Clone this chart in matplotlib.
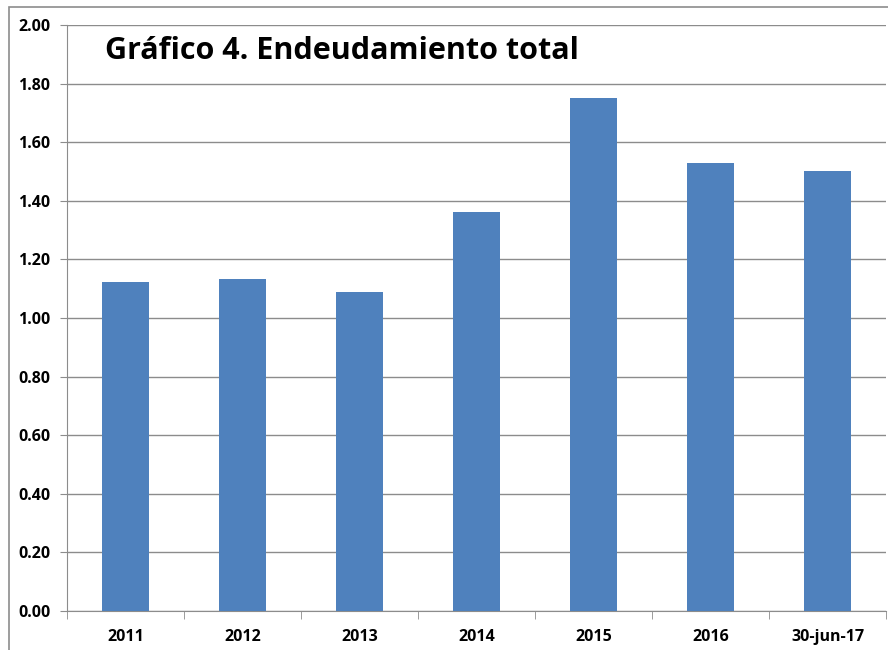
import matplotlib
matplotlib.use('Agg')
import matplotlib.pyplot as plt
from matplotlib.patches import Rectangle
import numpy as np

periods = ['2011', '2012', '2013', '2014', '2015', '2016', '30-jun-17']
debt_ratio = [1.123, 1.133, 1.089, 1.362, 1.751, 1.529, 1.502]

plt.rcParams['font.family'] = ['Open Sans', 'DejaVu Sans']

fig = plt.figure(figsize=(8.88, 6.5), dpi=100)
ax = fig.add_axes([67/888, 39/650, (886-67)/888, (611-25)/650])

# outer chart frame (clipped on right/bottom like the source image)
fig.patches.append(Rectangle((9/888, -0.5), 2, 1 - 7/650 + 0.5, transform=fig.transFigure,
                             fill=False, edgecolor='#8c8c8c', lw=1.2))

x = np.arange(len(periods))
ax.bar(x, debt_ratio, width=0.4, color='#4F81BD', zorder=3)

ax.set_xlim(-0.5, len(periods) - 0.5)
ax.set_ylim(0, 2.0)
ax.set_yticks(np.arange(0, 2.01, 0.2))
ax.set_yticklabels([f'{v:.2f}' for v in np.arange(0, 2.01, 0.2)], fontsize=11.5, fontweight='bold')
ax.set_xticks(x)
ax.set_xticklabels(periods, fontsize=11.5, fontweight='bold')
ax.tick_params(axis='x', length=0, pad=13)
ax.tick_params(axis='y', length=5, color='#8c8c8c', pad=7)
# category boundary ticks
ax.set_xticks(np.arange(-0.5, len(periods)), minor=True)
ax.tick_params(axis='x', which='minor', length=6, color='#8c8c8c')

ax.grid(axis='y', color='#8c8c8c', lw=1, zorder=0)
for s in ['top', 'right']:
    ax.spines[s].set_visible(False)
ax.spines['left'].set_color('#8c8c8c')
ax.spines['bottom'].set_color('#8c8c8c')

ax.text(0.046, 0.955, 'Gráfico 4. Endeudamiento total', transform=ax.transAxes,
        fontsize=22, fontweight='bold', va='center', ha='left')

fig.savefig('out.png', dpi=100)
